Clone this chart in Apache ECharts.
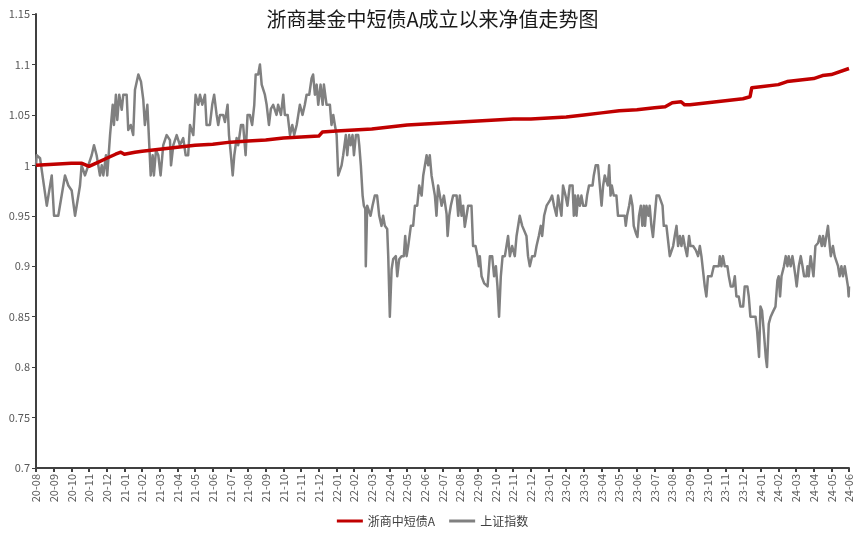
<!DOCTYPE html>
<html>
<head>
<meta charset="utf-8">
<script src="https://cdn.jsdelivr.net/npm/echarts@6/dist/echarts.min.js"></script>
<style>html,body{margin:0;padding:0;background:#fff;}#c{width:865px;height:540px;}</style>
</head>
<body>
<div id="c"></div>
<script>
// Month index 0 = 2020-08 ... 46 = 2024-06
const startYear = 2020, startMonth = 8, monthCount = 46;
const titleText = '浙商基金中短债A成立以来净值走势图';
const seriesNames = ['浙商中短债A', '上证指数'];

// 浙商中短债A : [month index, value]
const fundData = [
[0,1.000],[1,1.001],[2,1.002],[2.6,1.002],[3,0.999],[3.5,1.003],[4,1.007],[4.5,1.011],[4.8,1.013],[5,1.011],[5.3,1.012],[5.6,1.013],[6,1.014],[7,1.016],[8,1.018],[9,1.020],[10,1.021],[11,1.023],[12,1.024],[13,1.025],[14,1.027],[15,1.028],[16,1.029],[16.2,1.033],[17,1.034],[18,1.035],[19,1.036],[20,1.038],[21,1.040],[22,1.041],[23,1.042],[24,1.043],[25,1.044],[26,1.045],[27,1.046],[28,1.046],[29,1.047],[30,1.048],[31,1.050],[32,1.052],[33,1.054],[34,1.055],[35,1.057],[35.6,1.058],[36,1.062],[36.5,1.063],[36.7,1.060],[37,1.060],[38,1.062],[39,1.064],[40,1.066],[40.4,1.068],[40.5,1.077],[41,1.078],[42,1.080],[42.5,1.083],[43,1.084],[44,1.086],[44.5,1.089],[45,1.090],[46,1.096]
];

// 上证指数 (normalised) : [month index, value]
const indexData = [
[0,1.00],[0.04,1.01],[0.23,1.007],[0.61,0.96],[0.89,0.99],[1.02,0.95],[1.26,0.95],[1.64,0.99],[1.83,0.98],[2.02,0.975],[2.21,0.95],[2.30,0.95],[2.49,0.98],[2.58,1.00],[2.77,0.99],[2.96,1.00],[3.15,1.01],[3.28,1.02],[3.43,1.01],[3.62,0.99],[3.72,1.00],[3.81,0.99],[3.96,1.01],[4.03,0.99],[4.19,1.03],[4.34,1.06],[4.41,1.04],[4.52,1.07],[4.60,1.045],[4.71,1.07],[4.85,1.055],[4.94,1.07],[5.13,1.07],[5.22,1.035],[5.36,1.04],[5.50,1.03],[5.60,1.075],[5.79,1.09],[5.94,1.083],[6.07,1.065],[6.16,1.04],[6.30,1.06],[6.41,1.02],[6.49,0.99],[6.60,1.01],[6.67,0.99],[6.79,1.015],[6.92,1.01],[7.05,0.99],[7.20,1.02],[7.39,1.03],[7.58,1.025],
[7.64,1.00],[7.77,1.02],[7.96,1.03],[8.14,1.02],[8.33,1.027],[8.47,1.01],[8.61,1.01],[8.71,1.04],[8.90,1.03],[9.03,1.07],[9.18,1.06],[9.28,1.07],[9.41,1.06],[9.56,1.07],[9.65,1.04],[9.84,1.04],[9.97,1.06],[10.08,1.07],[10.22,1.05],[10.31,1.04],[10.41,1.05],[10.59,1.05],[10.69,1.043],[10.84,1.06],[10.92,1.03],[11.03,1.01],[11.13,0.99],[11.22,1.01],[11.35,1.027],[11.44,1.02],[11.60,1.04],[11.72,1.04],[11.86,1.01],[11.97,1.05],[12.10,1.05],[12.23,1.04],[12.35,1.06],[12.43,1.09],[12.57,1.09],[12.67,1.10],[12.77,1.08],[12.86,1.08],[12.95,1.07],[13.05,1.06],[13.18,1.04],[13.29,1.056],[13.42,1.06],[13.61,1.05],[13.70,1.06],[13.86,1.05],[13.99,1.07],[14.08,1.05],[14.24,1.05],[14.37,1.03],[14.50,1.04],[14.61,1.03],[14.75,1.04],[14.84,1.05],
[14.93,1.06],[15.08,1.05],[15.21,1.06],[15.31,1.07],[15.46,1.07],[15.59,1.086],[15.68,1.09],[15.78,1.07],[15.88,1.08],[15.97,1.06],[16.10,1.08],[16.22,1.06],[16.29,1.08],[16.44,1.06],[16.63,1.06],[16.72,1.04],[16.82,1.05],[16.91,1.04],[17.01,1.03],[17.10,0.99],[17.29,1.00],[17.38,1.01],[17.53,1.03],[17.61,1.01],[17.72,1.03],[17.80,1.02],[17.91,1.03],[17.99,1.01],[18.10,1.03],[18.23,1.03],[18.29,1.02],[18.38,1.00],[18.48,0.97],[18.55,0.96],[18.63,0.957],[18.66,0.90],[18.74,0.96],[18.85,0.96],[18.93,0.95],[19.04,0.96],[19.17,0.97],[19.30,0.97],[19.42,0.95],[19.55,0.94],[19.64,0.95],[19.74,0.94],[19.87,0.937],[19.93,0.91],[20.02,0.85],[20.12,0.897],[20.21,0.907],[20.36,0.91],[20.44,0.89],[20.55,0.907],[20.68,0.91],[20.81,0.91],[20.89,0.93],[20.97,0.91],[21.06,0.92],[21.21,0.94],[21.34,0.94],[21.44,0.96],[21.57,0.96],[21.68,0.98],[21.82,0.97],[21.91,0.99],[22.00,0.99],[22.10,1.01],[22.19,1.00],[22.28,1.01],[22.38,0.99],[22.47,0.99],[22.57,0.97],[22.66,0.95],[22.75,0.98],[22.85,0.97],[22.95,0.96],[23.08,0.97],
[23.23,0.952],[23.29,0.93],[23.38,0.95],[23.47,0.96],[23.60,0.97],[23.80,0.97],[23.89,0.95],[23.98,0.97],[24.08,0.95],[24.17,0.96],[24.26,0.939],[24.36,0.95],[24.45,0.96],[24.64,0.96],[24.73,0.92],[24.87,0.92],[24.98,0.91],[25.06,0.90],[25.11,0.91],[25.21,0.89],[25.36,0.883],[25.55,0.88],[25.68,0.91],[25.81,0.91],[25.92,0.89],[26.02,0.90],[26.11,0.88],[26.20,0.85],[26.30,0.89],[26.40,0.91],[26.53,0.91],[26.62,0.91],[26.71,0.93],[26.81,0.91],[26.94,0.92],[27.09,0.91],[27.19,0.93],[27.28,0.93],[27.37,0.95],[27.51,0.94],[27.62,0.94],[27.75,0.93],[27.84,0.91],[27.94,0.90],[28.07,0.91],[28.22,0.91],[28.32,0.92],[28.45,0.93],[28.56,0.94],[28.64,0.93],[28.75,0.95],[28.89,0.96],[29.07,0.965],[29.20,0.97],[29.31,0.96],[29.45,0.95],[29.54,0.97],[29.64,0.97],[29.73,0.95],[29.82,0.98],[29.96,0.97],[30.07,0.96],[30.20,0.98],
[30.36,0.98],[30.43,0.95],[30.50,0.97],[30.58,0.95],[30.67,0.97],[30.77,0.96],[30.86,0.97],[30.96,0.96],[31.11,0.96],[31.18,0.97],[31.29,0.98],[31.49,0.98],[31.56,0.99],[31.67,1.00],[31.80,1.00],[31.90,0.98],[32.00,0.96],[32.09,0.98],[32.18,0.99],[32.28,0.99],[32.35,0.98],[32.43,1.00],[32.51,0.97],[32.58,0.98],[32.69,0.97],[32.84,0.97],[32.93,0.95],[33.13,0.95],[33.31,0.95],[33.37,0.94],[33.44,0.95],[33.56,0.96],[33.65,0.97],[33.75,0.96],[33.82,0.94],[33.94,0.933],[34.03,0.929],[34.12,0.95],[34.22,0.96],[34.31,0.94],[34.39,0.96],[34.46,0.94],[34.54,0.96],[34.65,0.95],[34.72,0.96],[34.82,0.94],[34.91,0.929],[35.01,0.95],[35.11,0.97],[35.25,0.97],[35.33,0.97],[35.45,0.96],[35.52,0.94],[35.67,0.94],[35.76,0.926],[35.86,0.91],[35.96,0.91],[36.05,0.92],[36.14,0.93],[36.24,0.94],[36.33,0.92],[36.43,0.93],[36.52,0.92],[36.61,0.93],[36.71,0.92],[36.84,0.91],[36.95,0.93],[37.03,0.92],[37.18,0.92],[37.33,0.916],[37.46,0.91],[37.56,0.92],[37.65,0.91],[37.74,0.91],[37.84,0.88],[37.93,0.87],[38.02,0.89],[38.22,0.89],[38.35,0.90],
[38.50,0.90],[38.63,0.90],[38.69,0.91],[38.78,0.90],[38.87,0.91],[38.97,0.90],[39.12,0.90],[39.20,0.89],[39.31,0.88],[39.44,0.88],[39.54,0.89],[39.63,0.87],[39.76,0.87],[39.86,0.86],[40.01,0.86],[40.10,0.88],[40.25,0.88],[40.33,0.87],[40.42,0.85],[40.57,0.85],[40.71,0.85],[40.80,0.836],[40.91,0.81],[40.99,0.86],[41.08,0.856],[41.19,0.833],[41.29,0.81],[41.36,0.80],[41.46,0.843],[41.57,0.85],[41.70,0.855],[41.84,0.86],[41.95,0.886],[42.02,0.89],[42.10,0.87],[42.18,0.89],[42.32,0.90],[42.42,0.91],[42.52,0.90],[42.59,0.91],[42.70,0.90],[42.80,0.91],[42.89,0.90],[42.97,0.89],[43.04,0.88],[43.16,0.90],[43.27,0.91],[43.37,0.90],[43.46,0.89],[43.59,0.89],[43.65,0.90],[43.72,0.89],[43.83,0.91],[43.91,0.90],[43.99,0.89],[44.10,0.92],[44.25,0.923],[44.34,0.93],[44.46,0.92],[44.53,0.93],[44.63,0.92],[44.72,0.93],[44.81,0.94],[44.91,0.92],[44.97,0.91],[45.09,0.92],[45.19,0.91],[45.29,0.91],[45.38,0.90],[45.47,0.89],[45.57,0.90],[45.66,0.89],[45.76,0.90],[45.85,0.89],[45.94,0.88],[45.98,0.87],[46.00,0.88]
];

const yMin = 0.7, yMax = 1.15, yStep = 0.05;

function monthLabel(i) {
  const t = startMonth - 1 + i;
  const y = startYear + Math.floor(t / 12);
  const m = (t % 12) + 1;
  return String(y).slice(2) + '-' + (m < 10 ? '0' + m : m);
}

const chart = echarts.init(document.getElementById('c'), null, {renderer: 'canvas'});
const axisColor = '#404040';
const labelColor = '#595959';
const fontFam = '"Noto Sans CJK SC", "Noto Sans", sans-serif';
chart.setOption({
  backgroundColor: '#fff',
  animation: false,
  title: {
    text: titleText, left: 'center', top: 4,
    textStyle: {fontSize: 20, fontWeight: 'normal', color: '#1a1a1a', fontFamily: fontFam}
  },
  legend: {
    bottom: 8, left: 'center', itemWidth: 26, itemHeight: 10, itemGap: 14,
    icon: 'path://M0,3.5 L26,3.5 L26,6.5 L0,6.5 Z',
    textStyle: {fontSize: 12, color: '#404040', fontFamily: fontFam},
    data: seriesNames
  },
  grid: {left: 36, right: 16, top: 14, bottom: 72, containLabel: false},
  xAxis: {
    type: 'value', min: 0, max: monthCount, interval: 1,
    axisLine: {show: true, onZero: false, lineStyle: {color: axisColor, width: 2}},
    axisTick: {show: true, length: 4, lineStyle: {color: axisColor, width: 2}},
    splitLine: {show: false},
    axisLabel: {
      rotate: 90, fontSize: 11, color: labelColor, margin: 6, fontFamily: fontFam,
      formatter: v => monthLabel(Math.round(v))
    }
  },
  yAxis: {
    type: 'value', min: yMin, max: yMax, interval: yStep,
    axisLine: {show: true, lineStyle: {color: axisColor, width: 2}},
    axisTick: {show: true, length: 4, lineStyle: {color: axisColor, width: 1}},
    splitLine: {show: false},
    axisLabel: {
      fontSize: 11, color: labelColor, margin: 6, fontFamily: fontFam,
      formatter: v => String(parseFloat(v.toFixed(2)))
    }
  },
  series: [
    {
      name: seriesNames[0], type: 'line', data: fundData, showSymbol: false, z: 3,
      lineStyle: {color: '#C00000', width: 3.5, join: 'round'}, itemStyle: {color: '#C00000'}
    },
    {
      name: seriesNames[1], type: 'line', data: indexData, showSymbol: false, z: 2,
      lineStyle: {color: '#808080', width: 2.5, join: 'round'}, itemStyle: {color: '#808080'}
    }
  ]
});
</script>
</body>
</html>
